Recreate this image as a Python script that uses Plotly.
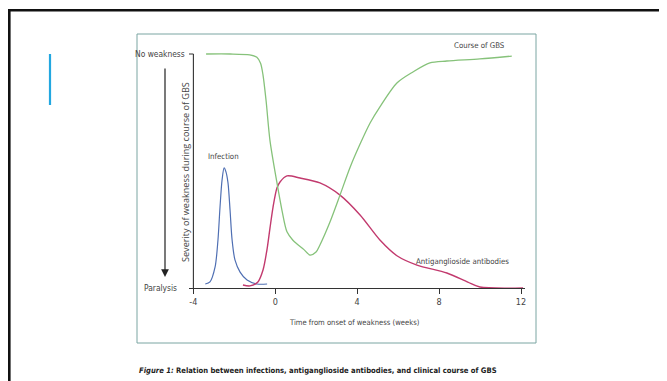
import plotly.graph_objects as go

W, H = 667, 381
OFF = 8  # the page body margin shifts the figure by 8 px

# ---- data (weeks, severity: 100 = no weakness, 0 = paralysis) ----
gbs_weeks = [-3.38, -2.2, -1.25, -0.9, -0.72, -0.6, -0.45, -0.26, 0.08, 0.33, 0.57, 0.85, 1.06, 1.4, 1.69,
             1.99, 2.18, 2.67, 3.16, 3.65, 4.14, 4.63, 5.11, 5.94, 6.72, 7.55, 8.38, 9.99, 11.55]
gbs_severity = [100, 100, 99.6, 98.6, 96, 91, 80, 63, 45, 33, 24, 20.5, 18.8, 16.4, 14.1,
                15.4, 18.4, 28.2, 39.7, 51.5, 61.5, 70.5, 77.4, 87.6, 92.3, 96.2, 97.0, 97.9, 99.1]

infection_weeks = [-3.42, -3.19, -2.94, -2.8, -2.7, -2.6, -2.5, -2.41, -2.31, -2.21, -2.11, -1.97, -1.72, -1.38, -0.89, -0.4]
infection_level = [1.7, 2.6, 9, 20.5, 34.6, 46.2, 51.3, 49.6, 44.9, 33.3, 20.5, 12, 6.8, 3.4, 1.7, 1.7]

antibody_weeks = [-1.58, -1.24, -0.85, -0.6, -0.41, -0.26, -0.11, 0.08, 0.23, 0.57, 1.21, 2.18, 3.16, 4.14,
                  5.11, 5.94, 6.92, 8.38, 9.4, 9.99, 12.1]
antibody_level = [1.3, 0.9, 2.6, 7.7, 16.2, 25.6, 34.6, 42.7, 45.3, 47.9, 47.0, 44.9, 39.7, 31.2,
                  20.5, 13.8, 9.8, 6.4, 2.5, 0.4, 0]

x_tick_vals = [-4, 0, 4, 8, 12]
x_tick_text = ["-4", "0", "4", "8", "12"]
y_tick_vals = [0, 100]
y_tick_text = ["Paralysis", "No weakness"]

x_title = "Time from onset of weakness (weeks)"
y_title = "Severity of weakness during course of GBS"
caption = "<i>Figure 1:</i> Relation between infections, antiganglioside antibodies, and clinical course of GBS"
curve_labels = ["Infection", "Course of GBS", "Antiganglioside antibodies"]

# ---- helpers (window pixel -> paper) ----
def px(x):
    return (x - OFF) / W

def py(y):
    return 1 - (y - OFF) / H

COND = "Liberation Sans Narrow, DejaVu Sans Condensed, Arial Narrow, sans-serif"
REG = "Open Sans, DejaVu Sans, sans-serif"
LBL = 7.8

# x: -4 -> 193.4px, 12 -> 521px
ppw = 20.475
x_left_px, x_right_px = 189, 525
x0 = -4 - (193.4 - x_left_px) / ppw
x1 = 12 + (x_right_px - 521) / ppw
# y: 0 -> 288px, 100 -> 54px
ppu = 2.34
y_lo, y_hi = -5, 105
y_top_px = 54 - (y_hi - 100) * ppu
y_bot_px = 288 + (0 - y_lo) * ppu

fig = go.Figure()
fig.add_trace(go.Scatter(x=infection_weeks, y=infection_level, mode="lines",
                         line=dict(color="#4f6fb3", width=1.2, shape="spline", smoothing=0.8),
                         hoverinfo="skip"))
fig.add_trace(go.Scatter(x=antibody_weeks, y=antibody_level, mode="lines",
                         line=dict(color="#c23a6e", width=1.4, shape="spline", smoothing=0.8),
                         hoverinfo="skip"))
fig.add_trace(go.Scatter(x=gbs_weeks, y=gbs_severity, mode="lines",
                         line=dict(color="#86c27a", width=1.3, shape="spline", smoothing=0.8),
                         hoverinfo="skip"))

shapes = [
    # slide frame
    dict(type="rect", xref="paper", yref="paper", x0=px(9.3), y0=py(420), x1=px(720), y1=py(10.3),
         line=dict(color="#111", width=2.6), fillcolor="rgba(0,0,0,0)", layer="below"),
    # blue accent line
    dict(type="line", xref="paper", yref="paper", x0=px(50), x1=px(50), y0=py(54), y1=py(105),
         line=dict(color="#22a7e0", width=2.2)),
    # figure box
    dict(type="rect", xref="paper", yref="paper", x0=px(137), y0=py(343), x1=px(536), y1=py(34),
         line=dict(color="#7aa5a2", width=1), fillcolor="rgba(0,0,0,0)", layer="below"),
    # y axis line
    dict(type="line", xref="x", yref="y", x0=-4, x1=-4, y0=0, y1=100,
         line=dict(color="#333", width=1.1)),
    # No weakness tick
    dict(type="line", xref="paper", yref="y", x0=px(189), x1=px(193.4), y0=100, y1=100,
         line=dict(color="#333", width=1.1)),
]

annotations = []
# y tick labels
for v, t, xr in zip(y_tick_vals, y_tick_text, [179, 187]):
    annotations.append(dict(x=px(xr), y=v, xref="paper", yref="y", text=t, showarrow=False,
                            xanchor="right", yanchor="middle",
                            font=dict(family=COND, size=8.4, color="#444")))
# y title
annotations.append(dict(x=px(185), y=py(172), xref="paper", yref="paper", text=y_title, showarrow=False,
                        textangle=-90, xanchor="center", yanchor="middle",
                        font=dict(family=REG, size=9.1, color="#444")))
# arrow
annotations.append(dict(x=px(165), y=py(277), xref="paper", yref="paper", ax=0, ay=-(277 - 67),
                        text="", showarrow=True,
                        arrowhead=2, arrowsize=1.3, arrowwidth=1.2, arrowcolor="#222"))
# x title
annotations.append(dict(x=px(354), y=py(322), xref="paper", yref="paper", text=x_title, showarrow=False,
                        xanchor="center", yanchor="middle",
                        font=dict(family=COND, size=7.6, color="#444")))
# curve labels
for t, (lx, ly) in zip(curve_labels, [(223, 156), (479, 46), (462, 261)]):
    annotations.append(dict(x=px(lx), y=py(ly), xref="paper", yref="paper", text=t, showarrow=False,
                            xanchor="center", yanchor="middle",
                            font=dict(family=COND, size=LBL, color="#444")))
# caption
annotations.append(dict(x=px(137), y=py(370), xref="paper", yref="paper", text="<b>" + caption + "</b>",
                        showarrow=False, xanchor="left", yanchor="middle",
                        font=dict(family=COND, size=7.6, color="#222")))

fig.update_layout(
    width=W, height=H,
    margin=dict(l=0, r=0, t=0, b=0),
    paper_bgcolor="white", plot_bgcolor="rgba(0,0,0,0)",
    showlegend=False,
    xaxis=dict(domain=[px(x_left_px), px(x_right_px)], range=[x0, x1],
               anchor="free", position=py(288),
               showline=True, linecolor="#333", linewidth=1.1,
               ticks="outside", ticklen=5, tickcolor="#333", tickwidth=1.1,
               tickvals=x_tick_vals, ticktext=x_tick_text, showgrid=False, zeroline=False,
               tickfont=dict(family=COND, size=9, color="#444")),
    yaxis=dict(domain=[py(y_bot_px), py(y_top_px)], range=[y_lo, y_hi],
               anchor="free", position=px(x_left_px),
               showline=False, showgrid=False, zeroline=False, showticklabels=False, ticks=""),
    shapes=shapes, annotations=annotations,
)

fig.write_html("out.html")
